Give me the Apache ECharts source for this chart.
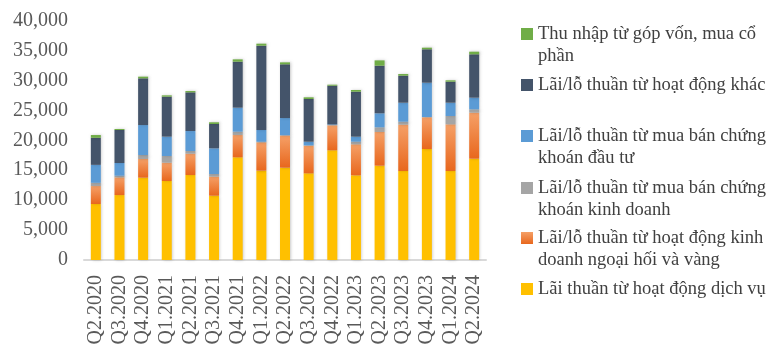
<!DOCTYPE html>
<html>
<head>
<meta charset="utf-8">
<script src="https://cdn.jsdelivr.net/npm/echarts@6/dist/echarts.min.js"></script>
<style>
  html, body { margin: 0; padding: 0; background: #fff; }
  #chart { width: 777px; height: 350px; }
</style>
</head>
<body>
<div id="chart"></div>
<script>
const categories = ['Q2.2020', 'Q3.2020', 'Q4.2020', 'Q1.2021', 'Q2.2021', 'Q3.2021', 'Q4.2021', 'Q1.2022', 'Q2.2022',
  'Q3.2022', 'Q4.2022', 'Q1.2023', 'Q2.2023', 'Q3.2023', 'Q4.2023', 'Q1.2024', 'Q2.2024']

// bottom to top
const dichVu = [9350, 10850, 13750, 13190, 14200, 10740, 17150, 14920, 15420, 14470, 18320, 14140, 15750, 14860, 18540, 14860, 16920]
const ngoaiHoi = [3000, 2950, 3120, 3060, 3550, 3180, 3720, 4730, 5340, 4620, 4170, 5180, 5630, 7740, 5290, 7800, 7680]
const ckKinhDoanh = [540, 280, 670, 1120, 450, 440, 560, 100, 100, 50, 50, 440, 780, 500, 50, 1390, 560]
const ckDauTu = [3000, 2120, 5000, 3230, 3340, 4290, 4010, 1960, 2850, 620, 100, 840, 2340, 3170, 5730, 2220, 1950]
const hdKhac = [4520, 5510, 7800, 6680, 6460, 4060, 7680, 14080, 8970, 7130, 6470, 7510, 7950, 4510, 5580, 3510, 7240]
const gopVon = [460, 170, 280, 220, 220, 290, 390, 340, 330, 280, 170, 280, 890, 280, 270, 230, 440]

const yTicks = [0, 5000, 10000, 15000, 20000, 25000, 30000, 35000, 40000]

const names = [
  'Lãi thuần từ hoạt động dịch vụ',
  'Lãi/lỗ thuần từ hoạt động kinh doanh ngoại hối và vàng',
  'Lãi/lỗ thuần từ mua bán chứng khoán kinh doanh',
  'Lãi/lỗ thuần từ mua bán chứng khoán đầu tư',
  'Lãi/lỗ thuần từ hoạt động khác',
  'Thu nhập từ góp vốn, mua cổ phần'
]
// how the legend wraps each name
const legendLines = [
  ['Lãi thuần từ hoạt động dịch vụ'],
  ['Lãi/lỗ thuần từ hoạt động kinh', 'doanh ngoại hối và vàng'],
  ['Lãi/lỗ thuần từ mua bán chứng', 'khoán kinh doanh'],
  ['Lãi/lỗ thuần từ mua bán chứng', 'khoán đầu tư'],
  ['Lãi/lỗ thuần từ hoạt động khác'],
  ['Thu nhập từ góp vốn, mua cổ', 'phần']
]
const seriesData = [dichVu, ngoaiHoi, ckKinhDoanh, ckDauTu, hdKhac, gopVon]
const colors = [
  '#FFC000',
  {type: 'linear', x: 0, y: 0, x2: 0, y2: 1, colorStops: [{offset: 0, color: '#F5A067'}, {offset: 1, color: '#E8671D'}]},
  '#A5A5A5',
  '#5B9BD5',
  '#44546A',
  '#70AD47'
]
// legend icon centre (y) per item
const legendCenters = [289, 238, 188, 136, 85, 34]

const font = 'Liberation Serif'
const lineH = 22

const legends = names.map((name, i) => {
  const lines = legendLines[i]
  const two = lines.length > 1
  // blank first line so the icon sits beside the first real line
  const text = two ? '\n' + lines.join('\n') : lines[0]
  return {
    orient: 'vertical',
    left: 521,
    top: legendCenters[i] - (two ? lineH * 1.5 : lineH / 2),
    padding: 0,
    itemWidth: 12,
    itemHeight: 12,
    icon: 'rect',
    selectedMode: false,
    data: [name],
    formatter: () => text,
    textStyle: {
      fontFamily: font,
      fontSize: 18.5,
      color: '#404040',
      lineHeight: lineH
    }
  }
})

const chart = echarts.init(document.getElementById('chart'))
const option = {
  animation: false,
  color: colors,
  legend: legends,
  grid: {left: 84, right: 291, top: 20.5, bottom: 90},
  xAxis: {
    type: 'category',
    data: categories,
    axisLine: {lineStyle: {color: '#D9D9D9', width: 2}},
    axisTick: {show: false},
    axisLabel: {
      rotate: 90,
      margin: 15,
      interval: 0,
      fontFamily: font,
      fontSize: 20,
      color: '#595959'
    }
  },
  yAxis: {
    type: 'value',
    min: 0,
    max: yTicks[yTicks.length - 1],
    interval: yTicks[1] - yTicks[0],
    splitLine: {show: false},
    axisLine: {show: false},
    axisTick: {show: false},
    axisLabel: {
      margin: 16,
      fontFamily: font,
      fontSize: 20,
      color: '#595959',
      formatter: v => v.toLocaleString('en-US')
    }
  },
  series: names.map((name, i) => ({
    name: name,
    type: 'bar',
    stack: 'total',
    barWidth: 10,
    data: seriesData[i],
    itemStyle: {
      shadowBlur: 3,
      shadowColor: 'rgba(0,0,0,0.22)',
      shadowOffsetX: 1
    }
  }))
}
chart.setOption(option)
</script>
</body>
</html>
